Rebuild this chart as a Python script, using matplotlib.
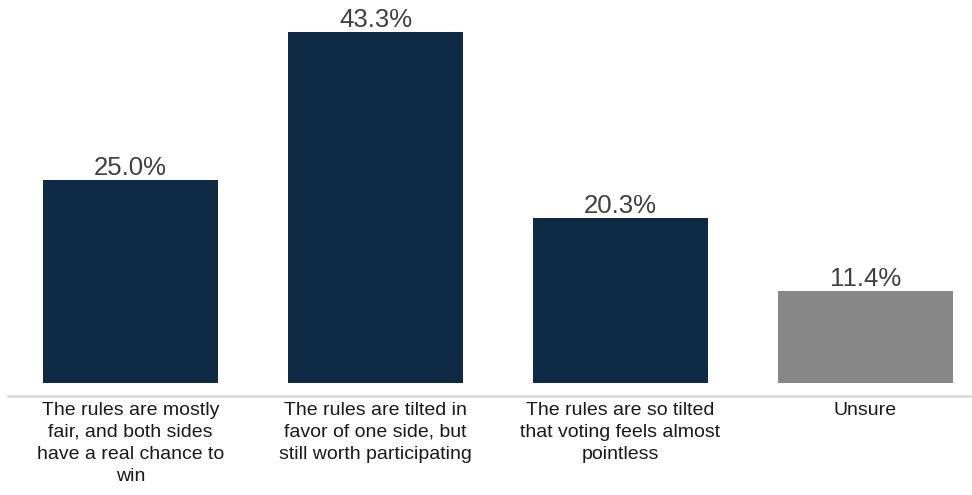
import matplotlib.pyplot as plt
from matplotlib.transforms import blended_transform_factory, offset_copy

plt.rcParams.update({'font.family': ['Liberation Sans', 'DejaVu Sans']})

categories = [
    'The rules are mostly\nfair, and both sides\nhave a real chance to\nwin',
    'The rules are tilted in\nfavor of one side, but\nstill worth participating',
    'The rules are so tilted\nthat voting feels almost\npointless',
    'Unsure',
]
values = [25.0, 43.3, 20.3, 11.4]
colors = ['#0f2a45', '#0f2a45', '#0f2a45', '#878787']

W, H = 972, 495
fig = plt.figure(figsize=(W / 100, H / 100), dpi=100)
# axes box in pixels: left 8, right 988, bottom line at y=396 from top
ax = fig.add_axes([8 / W, (H - 396) / H, 980 / W, 396 / H])
ax.set_xlim(-0.5, 3.5)
ax.set_ylim(-1.6, 47.25)

x = list(range(len(values)))
ax.bar(x, values, width=0.714, color=colors)
for xi, v in zip(x, values):
    ax.annotate(f'{v:.1f}%', (xi, v), xytext=(0, 0), textcoords='offset points',
                ha='center', va='bottom', fontsize=18.5, color='#404040')

ax.axhline(-1.6, color='#d9d9d9', lw=1.8, clip_on=False)

trans = blended_transform_factory(ax.transData, ax.transAxes)
trans = offset_copy(trans, fig=fig, x=0, y=-6, units='dots')
for xi, lab in zip(x, categories):
    ax.text(xi, 0, lab, transform=trans, ha='center', va='top',
            fontsize=14, color='#1a1a1a', linespacing=1.38)

for s in ax.spines.values():
    s.set_visible(False)
ax.set_xticks([])
ax.set_yticks([])

fig.savefig('out.png', dpi=100)
